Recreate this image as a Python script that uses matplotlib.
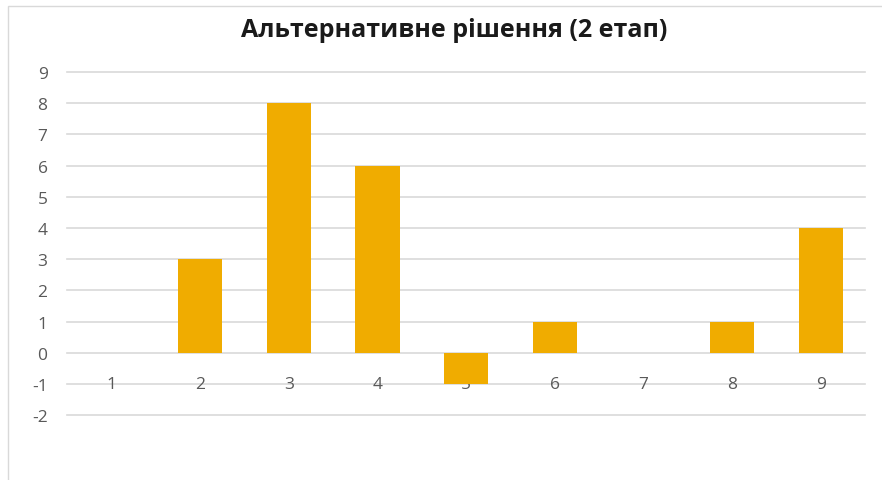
import matplotlib.pyplot as plt
from matplotlib.patches import Rectangle

# stage 2 results
categories = ["1", "2", "3", "4", "5", "6", "7", "8", "9"]
values = [0, 3, 8, 6, -1, 1, 0, 1, 4]
y_ticks = [-2, -1, 0, 1, 2, 3, 4, 5, 6, 7, 8, 9]
title = "Альтернативне рішення (2 етап)"

bar_color = "#F0AC00"
grid_color = "#D9D9D9"
text_color = "#595959"

plt.rcParams["font.family"] = ["Open Sans", "DejaVu Sans"]

fig = plt.figure(figsize=(8.82, 4.81), dpi=100)
ax = fig.add_axes([0.076, 0.135, 0.905, 0.713])

# chart frame (left and top edges visible)
fig.patches.append(Rectangle((8 / 882, -0.1), 1.2, 1 - 7 / 481 + 0.1,
                             transform=fig.transFigure, fill=False,
                             edgecolor=grid_color, linewidth=1))

x = list(range(len(categories)))
ax.bar(x, values, width=0.5, color=bar_color, zorder=3)

ax.set_xlim(-0.5, len(categories) - 0.5)
ax.set_ylim(-2, 9)
ax.set_yticks(y_ticks)
ax.set_yticklabels([str(t) for t in y_ticks], fontsize=12.5, color=text_color)
ax.tick_params(axis="y", length=0, pad=14)
ax.set_xticks([])

# category labels sit just under the zero line
for xi, lab in zip(x, categories):
    ax.text(xi, -1, lab, ha="center", va="center", fontsize=12.5,
            color=text_color, zorder=2)

for gl in ax.yaxis.get_gridlines():
    gl.set_clip_on(False)
ax.grid(axis="y", color=grid_color, linewidth=1.2, zorder=0)
ax.set_axisbelow(True)
for gl in ax.yaxis.get_gridlines():
    gl.set_clip_on(False)
for s in ax.spines.values():
    s.set_visible(False)

fig.text(0.515, 0.937, title, ha="center", va="center", fontsize=18,
         fontweight="bold", color="#1a1a1a")

fig.savefig("out.png", dpi=100)
